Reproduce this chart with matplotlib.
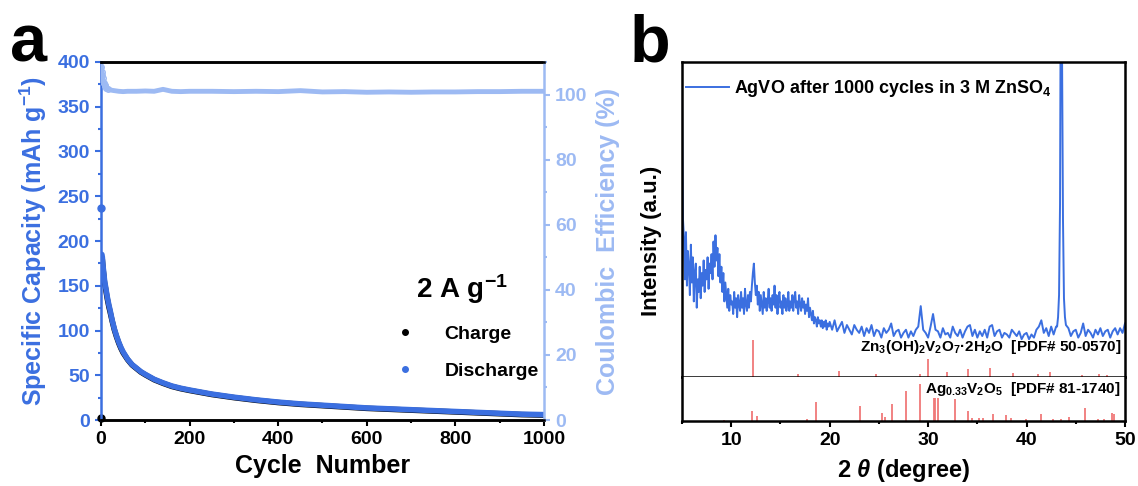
import matplotlib.pyplot as plt
from matplotlib.lines import Line2D
from matplotlib.ticker import MultipleLocator

plt.rcParams['font.family'] = ['Liberation Sans', 'DejaVu Sans']
plt.rcParams['font.weight'] = 'bold'
plt.rcParams['axes.labelweight'] = 'bold'
plt.rcParams['mathtext.fontset'] = 'custom'
plt.rcParams['mathtext.rm'] = 'Liberation Sans:bold'
plt.rcParams['mathtext.it'] = 'Liberation Sans:italic:bold'
plt.rcParams['mathtext.bf'] = 'Liberation Sans:bold'
plt.rcParams['mathtext.default'] = 'regular'

BLUE = '#3b6fe0'
LIGHT = '#9dbaf3'
RED = '#f07878'

# ---- panel a: cycling at 2 A/g ----
cycles = [1, 2, 3, 4, 5, 6, 7, 8, 10, 12, 14, 16, 18, 20, 25, 30, 35, 40, 45, 50,
          60, 70, 80, 90, 100, 120, 140, 160, 180, 200, 250, 300, 350, 400, 450, 500,
          550, 600, 650, 700, 750, 800, 850, 900, 950, 1000]
discharge = [237, 185, 182, 176, 170, 166, 161, 156, 150, 144, 138, 133, 128, 124,
             112, 102, 94, 87, 81, 76, 68, 62, 58, 54, 51, 45.5, 41.5, 38, 35.5, 33.5,
             29, 25.5, 22.5, 20, 18, 16.5, 15, 13.5, 12.5, 11.5, 10.5, 9.5, 8.5, 7.5, 6.5, 6]
charge = [2, 181, 179, 173, 167, 163, 158, 153, 148, 142, 136, 131, 126, 122,
          111, 101, 93, 86, 80, 75, 67.5, 61.5, 57.5, 53.5, 50.5, 45, 41, 37.5, 35, 33,
          28.5, 25, 22, 19.5, 17.5, 16, 14.5, 13, 12, 11, 10, 9, 8, 7, 6, 5.5]

ce_cycles = [1, 2, 3, 4, 5, 6, 8, 10, 12, 15, 20, 25, 30, 40, 50, 60, 80, 100, 120, 140,
             160, 180, 200, 250, 300, 350, 400, 450, 500, 550, 600, 650, 700, 750, 800,
             850, 900, 950, 1000]
ce = [108.5, 107, 106, 105, 104, 103.5, 103, 102.5, 102, 101.8, 101.5, 101.3, 101.2,
      101, 100.9, 101, 101, 101.1, 101, 101.6, 101, 100.9, 101, 101, 100.9, 101, 100.9,
      101.2, 100.8, 100.9, 100.7, 100.8, 100.7, 100.8, 100.8, 100.9, 100.9, 101, 101]

# ---- panel b: XRD ----
tt_1 = [5.0, 5.1, 5.2, 5.3, 5.4, 5.5, 5.6, 5.7, 5.8, 5.9,
        6.0, 6.1, 6.2, 6.3, 6.4, 6.5, 6.6, 6.7, 6.8, 6.9,
        7.0, 7.1, 7.2, 7.3, 7.4, 7.5, 7.6, 7.7, 7.8, 7.9,
        8.0, 8.1, 8.2, 8.3, 8.4, 8.5, 8.6, 8.7, 8.8, 8.9,
        9.0, 9.1, 9.2, 9.3, 9.4, 9.5, 9.6, 9.7, 9.8, 9.9, 10.0]
int_1 = [88, 50, 44, 31, 46, 29, 40, 35, 26, 42,
         30, 38, 24, 33, 36, 22, 31, 27, 35, 25,
         33, 29, 37, 27, 34, 31, 38, 28, 36, 33,
         39, 31, 43, 35, 45, 37, 41, 32, 39, 30,
         35, 27, 33, 24, 30, 26, 22, 28, 21, 26, 23]
tt_2 = [10.1, 10.2, 10.3, 10.4, 10.5, 10.6, 10.7, 10.8, 10.9, 11.0,
        11.1, 11.2, 11.3, 11.4, 11.5, 11.6, 11.7, 11.8, 11.9, 12.0,
        12.1, 12.2, 12.3, 12.4, 12.5, 12.6, 12.7, 12.8, 12.9, 13.0,
        13.1, 13.2, 13.3, 13.4, 13.5, 13.6, 13.7, 13.8, 13.9, 14.0,
        14.1, 14.2, 14.3, 14.4, 14.5, 14.6, 14.7, 14.8, 14.9, 15.0,
        15.1, 15.2, 15.3, 15.4, 15.5, 15.6, 15.7, 15.8, 15.9, 16.0,
        16.1, 16.2, 16.3, 16.4, 16.5, 16.6, 16.7, 16.8, 16.9, 17.0,
        17.1, 17.2, 17.3, 17.4, 17.5, 17.6, 17.7, 17.8, 17.9, 18.0,
        18.1, 18.2, 18.3, 18.4, 18.5, 18.6, 18.7, 18.8, 18.9, 19.0,
        19.1, 19.2, 19.3, 19.4, 19.5, 19.6, 19.7, 19.8, 19.9, 20.0]
int_2 = [24, 20, 27, 22, 25, 19, 26, 23, 21, 27,
         22, 25, 20, 28, 23, 21, 26, 22, 27, 24,
         29, 33, 36, 30, 26, 29, 23, 27, 21, 26,
         23, 20, 27, 22, 25, 21, 24, 28, 22, 25,
         21, 26, 23, 29, 22, 26, 20, 25, 27, 22,
         24, 20, 26, 22, 25, 21, 23, 27, 21, 24,
         22, 26, 21, 25, 27, 22, 24, 20, 26, 23,
         21, 25, 22, 24, 20, 23, 21, 25, 19, 22,
         20, 18, 21, 17, 19, 18, 16, 19, 17, 18,
         16, 18, 15.5, 17.5, 16, 18, 15, 17, 16, 17.5]
tt_3 = [20.25, 20.5, 20.75, 21.0, 21.25, 21.5, 21.75, 22.0, 22.25, 22.5, 22.75, 23.0,
        23.25, 23.5, 23.75, 24.0, 24.25, 24.5, 24.75, 25.0, 25.25, 25.5, 25.75, 26.0,
        26.25, 26.5, 26.75, 27.0, 27.25, 27.5, 27.75, 28.0, 28.25, 28.5, 28.75, 29.0,
        29.25, 29.5, 29.75, 30.0, 30.25, 30.5, 30.75, 31.0, 31.25, 31.5, 31.75, 32.0,
        32.25, 32.5, 32.75, 33.0, 33.25, 33.5, 33.75, 34.0, 34.25, 34.5, 34.75, 35.0,
        35.25, 35.5, 35.75, 36.0, 36.25, 36.5, 36.75, 37.0, 37.25, 37.5, 37.75, 38.0,
        38.25, 38.5, 38.75, 39.0, 39.25, 39.5, 39.75, 40.0, 40.25, 40.5, 40.75, 41.0,
        41.25, 41.5, 41.75, 42.0, 42.25, 42.5, 42.75, 43.0]
int_3 = [15, 18, 14.5, 16, 17.5, 14, 16.5, 15, 13.5, 16.5, 15, 14,
         16, 13, 15.5, 14, 16.5, 13, 15, 14.5, 12.5, 15.5, 14, 15,
         17, 13, 14.5, 15, 12.5, 14, 15, 12.5, 14.5, 13, 15, 16,
         22.5, 15, 14, 12.5, 16, 20, 15, 14.5, 12.5, 15.5, 13.5, 14,
         12.5, 16, 14, 13, 15, 12.5, 14.5, 16, 16.5, 13, 15, 12.5,
         14.5, 13, 15, 12.5, 16, 16.5, 13, 14.5, 15, 12.5, 14, 13.5,
         12.5, 15, 14, 13, 14.5, 12, 13.5, 14, 12, 13.5, 12.5, 15,
         16, 18, 14, 15.5, 13, 16, 13.5, 16]
tt_4 = [43.1, 43.2, 43.3, 43.4, 43.45, 43.55, 43.6, 43.7, 43.8, 43.9, 44.0,
        44.25, 44.5, 44.75, 45.0, 45.25, 45.5, 45.75, 46.0, 46.25, 46.5, 46.75, 47.0,
        47.25, 47.5, 47.75, 48.0, 48.25, 48.5, 48.75, 49.0, 49.25, 49.5, 49.75, 50.0]
int_4 = [16, 19, 26, 55, 105, 125, 105, 50, 25, 19, 16.5,
         15.5, 13, 14.5, 15, 12.5, 14, 17, 13, 15, 14, 12.5, 15,
         13.5, 15.5, 13, 14.5, 15, 12.5, 14.5, 15.5, 13.5, 15.5, 14, 17]
two_theta = tt_1 + tt_2 + tt_3 + tt_4
intensity = int_1 + int_2 + int_3 + int_4

zn_pos = [12.2, 16.8, 20.9, 24.7, 29.2, 30.0, 31.9, 34.1, 36.3, 38.6, 41.2, 42.4, 45.6, 47.4, 48.2]
zn_int = [11.7, 0.8, 1.9, 1.0, 1.0, 5.7, 1.6, 2.4, 2.9, 1.2, 1.0, 1.6, 0.6, 1.0, 0.6]
ag_pos = [9.3, 12.16, 12.6, 17.7, 18.65, 23.05, 25.3, 25.6, 26.3, 27.8, 29.15, 30.6, 30.75,
          31.0, 32.7, 34.06, 34.5, 35.2, 35.6, 36.6, 37.9, 38.4, 39.9, 41.5, 42.7, 43.5,
          44.3, 45.9, 47.3, 47.9, 48.7, 48.9]
ag_int = [0.7, 10, 5, 1.7, 19, 15, 7.7, 4, 16.7, 30, 36.7, 22.7, 22.7,
          22.7, 21.7, 10, 3.3, 3.3, 3.3, 6.7, 6, 3.3, 1.7, 6.7, 1.7, 1.7,
          4, 12.7, 1.7, 1.7, 8, 6.7]

fig = plt.figure(figsize=(11.38, 4.86), dpi=100)

# ===== panel a =====
ax = fig.add_axes([0.08875, 0.13580, 0.38928, 0.73663])
# first cycle drawn as single points, the rest as a dense band
ax.plot(cycles[1:], charge[1:], '-', color='black', lw=4, solid_capstyle='round', zorder=2)
ax.plot(cycles[:1], charge[:1], 'o', color='black', ms=5, zorder=2, clip_on=False)
ax.plot(cycles[1:], discharge[1:], '-', color=BLUE, lw=4, solid_capstyle='round', zorder=3)
ax.plot(cycles[:1], discharge[:1], 'o', color=BLUE, ms=5, zorder=3, clip_on=False)
ax.set_xlim(0, 1000)
ax.set_ylim(0, 400)
ax.xaxis.set_major_locator(MultipleLocator(200))
ax.xaxis.set_minor_locator(MultipleLocator(100))
ax.yaxis.set_major_locator(MultipleLocator(50))
ax.yaxis.set_minor_locator(MultipleLocator(25))
ax.tick_params(axis='y', which='both', colors=BLUE, direction='out', width=1.5, labelsize=14)
ax.tick_params(axis='x', which='both', colors='black', direction='out', width=1.5, labelsize=14)
ax.tick_params(which='major', length=4.5)
ax.tick_params(which='minor', length=2.5)
for s in ['top', 'bottom']:
    ax.spines[s].set_linewidth(1.8)
ax.spines['left'].set_color(BLUE)
ax.spines['left'].set_linewidth(1.8)
ax.spines['right'].set_visible(False)
ax.set_xlabel('Cycle  Number', fontsize=18, labelpad=4)
ax.set_ylabel('Specific Capacity (mAh g$^{-1}$)', color=BLUE, fontsize=18, labelpad=6)

handles = [Line2D([], [], marker='o', ls='none', color='black', ms=4),
           Line2D([], [], marker='o', ls='none', color=BLUE, ms=4)]
ax.legend(handles, ['Charge', 'Discharge'], loc='lower right',
          bbox_to_anchor=(1.023, 0.068), frameon=False, fontsize=14,
          handletextpad=1.0, labelspacing=1.0, borderpad=0.3,
          title='2 A g$^{-1}$', title_fontproperties={'weight': 'bold', 'size': 20})

ax2 = ax.twinx()
ax2.plot(ce_cycles, ce, '-o', color=LIGHT, mfc='none', lw=3.5, ms=4,
         markevery=slice(0, 10), zorder=2)
ax2.set_ylim(0, 110)
ax2.yaxis.set_major_locator(MultipleLocator(20))
ax2.yaxis.set_minor_locator(MultipleLocator(10))
ax2.tick_params(axis='y', which='both', colors=LIGHT, direction='out', width=1.5, labelsize=14)
ax2.tick_params(which='major', length=4.5)
ax2.tick_params(which='minor', length=2.5)
ax2.spines['left'].set_visible(False)
ax2.spines['right'].set_color(LIGHT)
for s in ['right', 'top', 'bottom']:
    ax2.spines[s].set_linewidth(1.8)
ax2.set_ylabel('Coulombic  Efficiency (%)', color=LIGHT, fontsize=18, labelpad=6)

fig.text(10 / 1138, 1 - 62 / 486, 'a', fontsize=48, fontweight='bold', va='baseline')

# ===== panel b =====
axt = fig.add_axes([0.59930, 0.22428, 0.38928, 0.64815])
axt.plot(two_theta, intensity, color=BLUE, lw=1.4,
         label='AgVO after 1000 cycles in 3 M ZnSO$_4$')
axt.vlines(zn_pos, 0, zn_int, color=RED, lw=1.3)
axt.set_xlim(5, 50)
axt.set_ylim(0, 100)
axt.set_xticks([])
axt.set_yticks([])
for s in axt.spines.values():
    s.set_linewidth(1.8)
axt.legend(loc='upper left', bbox_to_anchor=(0, 0.96), frameon=False, fontsize=13,
           handlelength=2.4, handletextpad=0.3, borderaxespad=0, borderpad=0.2)
axt.text(0.991, 0.095, 'Zn$_3$(OH)$_2$V$_2$O$_7$·2H$_2$O  [PDF# 50-0570]',
         transform=axt.transAxes, ha='right', va='center', fontsize=11)

axb = fig.add_axes([0.59930, 0.13374, 0.38928, 0.09053])
axb.vlines(ag_pos, 0, ag_int, color=RED, lw=1.3)
axb.set_xlim(5, 50)
axb.set_ylim(0, 44)
axb.set_yticks([])
axb.xaxis.set_major_locator(MultipleLocator(10))
axb.xaxis.set_minor_locator(MultipleLocator(5))
axb.tick_params(axis='x', which='both', direction='out', width=1.5, labelsize=14)
axb.tick_params(which='major', length=4.5)
axb.tick_params(which='minor', length=2.5)
axb.spines['top'].set_visible(False)
for s in ['left', 'right', 'bottom']:
    axb.spines[s].set_linewidth(1.8)
axb.text(0.991, 0.727, 'Ag$_{0.33}$V$_2$O$_5$  [PDF# 81-1740]',
         transform=axb.transAxes, ha='right', va='center', fontsize=11)
axb.set_xlabel(r'2 $\mathit{\theta}$ (degree)', fontsize=17, labelpad=6)

fig.text(652 / 1138, 1 - 241 / 486, 'Intensity (a.u.)', fontsize=16, fontweight='bold',
         rotation=90, ha='center', va='center')
fig.text(630 / 1138, 1 - 62 / 486, 'b', fontsize=48, fontweight='bold', va='baseline')

# make all tick labels bold
fig.canvas.draw()
for a in [ax, ax2, axb]:
    for lab in a.get_xticklabels() + a.get_yticklabels():
        lab.set_fontweight('bold')

fig.savefig('out.png', dpi=100)
